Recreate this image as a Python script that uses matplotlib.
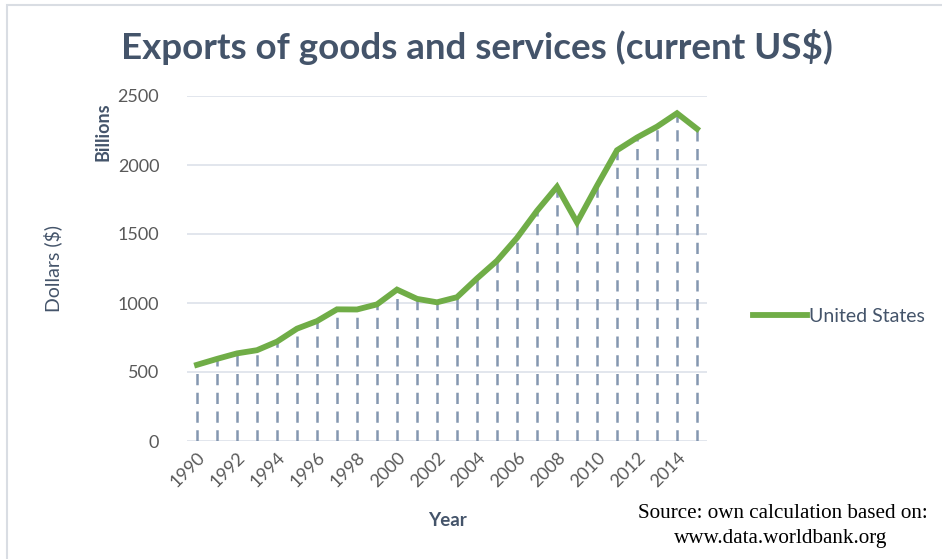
import matplotlib.pyplot as plt
from matplotlib.patches import Rectangle

# US exports of goods and services, billions of current US$
years = list(range(1990, 2016))
exports = [552, 595, 635, 658, 720, 814, 869, 954, 953, 990, 1097, 1030, 1005,
           1042, 1178, 1306, 1472, 1668, 1842, 1584, 1850, 2107, 2199, 2278,
           2375, 2262]
tick_years = list(range(1990, 2015, 2))
y_ticks = [0, 500, 1000, 1500, 2000, 2500]

plt.rcParams['font.family'] = ['Lato', 'DejaVu Sans']

dark = '#44546A'
gray = '#595959'
green = '#70AD47'
drop = '#8497B0'

fig = plt.figure(figsize=(9.42, 5.59), dpi=100)
fig.patch.set_facecolor('white')
fig.patches.append(Rectangle((7 / 942, -0.1), 1.2, 1 - 5 / 559 + 0.1,
                             transform=fig.transFigure, fill=False,
                             edgecolor='#D9DDE3', linewidth=1.5))

ax = fig.add_axes([187 / 942, 1 - 441 / 559, 520 / 942, 345 / 559])

# dashed drop lines from each point down to zero
ax.vlines(years, 0, exports, colors=drop, linestyles=(0, (4.5, 3)),
          linewidth=1.8, zorder=2)
ax.plot(years, exports, color=green, linewidth=4.2, solid_joinstyle='miter',
        label='United States', zorder=3)

ax.set_xlim(1989.5, 2015.5)
ax.set_ylim(0, 2500)
ax.set_yticks(y_ticks)
ax.set_xticks(tick_years)
ax.set_xticklabels([str(y) for y in tick_years], rotation=45, ha='right',
                   rotation_mode='anchor', fontsize=13, color=gray)
ax.tick_params(axis='y', labelsize=13, labelcolor=gray, length=0, pad=20)
ax.tick_params(axis='x', length=0, pad=6)
ax.grid(axis='y', color='#DDE1EA', linewidth=1.2)
ax.set_axisbelow(True)
for s in ax.spines.values():
    s.set_visible(False)

fig.text(477 / 942, 1 - 47 / 559, 'Exports of goods and services (current US$)',
         ha='center', va='center', fontsize=26.5, fontweight='bold', color=dark)
fig.text(103 / 942, 1 - 132 / 559, 'Billions', rotation=90, ha='center',
         va='center', fontsize=13, fontweight='bold', color=dark)
fig.text(53 / 942, 1 - 268 / 559, 'Dollars ($)', rotation=90, ha='center',
         va='center', fontsize=14, color=dark)
fig.text(447 / 942, 1 - 521 / 559, 'Year', ha='center', va='center',
         fontsize=13.5, fontweight='bold', color=dark)

ax.legend(loc='center left', bbox_to_anchor=(735 / 942, 1 - 316 / 559),
          bbox_transform=fig.transFigure, frameon=False, fontsize=14,
          labelcolor=dark, handlelength=2.8, handletextpad=0.1)

fig.text(928 / 942, 1 - 513 / 559, 'Source: own calculation based on:',
         ha='right', va='center', fontsize=15.2, family='Liberation Serif',
         color='black')
fig.text(781 / 942, 1 - 539 / 559, 'www.data.worldbank.org', ha='center',
         va='center', fontsize=15.2, family='Liberation Serif', color='black')

fig.savefig('out.png', dpi=100, facecolor='white')
